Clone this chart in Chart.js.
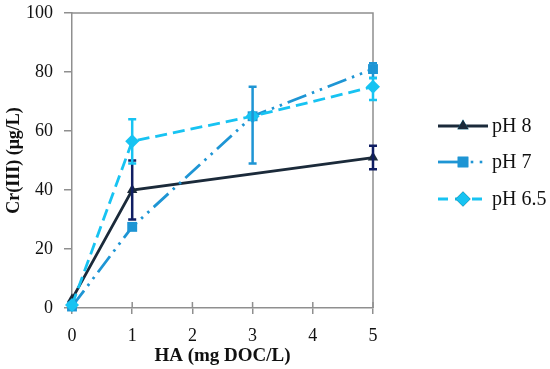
<!DOCTYPE html>
<html>
<head>
<meta charset="utf-8">
<script src="https://cdn.jsdelivr.net/npm/chart.js@4"></script>
<style>
  html, body { margin: 0; padding: 0; background: #fff; }
  #wrap { width: 550px; height: 369px; }
</style>
</head>
<body>
<div id="wrap"><canvas id="grafico"></canvas></div>
<script>
// Datos
const seriesNombres = ['pH 8', 'pH 7', 'pH 6.5'];
const xPH8 = [0, 1, 5];
const yPH8 = [3, 40, 51];
const errPH8 = [null, [30, 50], [47, 55]];
const xPH7 = [0, 1, 3, 5];
const yPH7 = [0.5, 27.5, 65, 81];
const errPH7 = [null, null, [49, 75], [78, 83]];
const xPH65 = [0, 1, 3, 5];
const yPH65 = [1, 56.5, 65, 75];
const errPH65 = [null, [49, 64], null, [70.5, 78]];
const xTicks = [0, 1, 2, 3, 4, 5];
const yTicks = [0, 20, 40, 60, 80, 100];

const FUENTE = '"Liberation Serif", "DejaVu Serif", serif';
const GRIS = '#8f8f8f';

const colores = ['#1b2a3a', '#1e95d4', '#17c3f2'];
const coloresError = ['#101e63', '#1e95d4', '#17c3f2'];
const estilos = ['triangle', 'rect', 'rectRot'];
const radios = [6, 7, 7];
const guiones = [[], [20, 6, 2.5, 6, 2.5, 6], [12, 6]];
const errores = [errPH8, errPH7, errPH65];

function puntos(xs, ys) {
    return xs.map((x, i) => ({ x: x, y: ys[i] }));
}

const datasets = [puntos(xPH8, yPH8), puntos(xPH7, yPH7), puntos(xPH65, yPH65)].map((data, i) => ({
    label: seriesNombres[i],
    data: data,
    showLine: true,
    clip: false,
    borderColor: colores[i],
    backgroundColor: colores[i],
    borderWidth: 2.8,
    borderDash: guiones[i],
    pointStyle: estilos[i],
    pointRadius: radios[i],
    pointBorderWidth: 0,
    pointBackgroundColor: colores[i],
    order: 2 - i
}));

// Barras de error, caja del area y marcas del eje x
const pluginExtras = {
    id: 'extras',
    beforeDatasetsDraw(chart) {
        const { ctx, chartArea: a } = chart;
        ctx.save();
        ctx.strokeStyle = GRIS;
        ctx.lineWidth = 1.5;
        ctx.beginPath();
        ctx.moveTo(a.left, a.top);
        ctx.lineTo(a.right, a.top);
        ctx.lineTo(a.right, a.bottom);
        ctx.stroke();
        // marcas hacia arriba en el eje x
        const sx = chart.scales.x;
        xTicks.forEach(v => {
            const px = sx.getPixelForValue(v);
            ctx.beginPath();
            ctx.moveTo(px, a.bottom);
            ctx.lineTo(px, a.bottom - 6);
            ctx.stroke();
        });
        ctx.restore();
    },
    afterDatasetsDraw(chart) {
        const { ctx } = chart;
        const sx = chart.scales.x, sy = chart.scales.y;
        ctx.save();
        ctx.lineWidth = 2.5;
        chart.data.datasets.forEach((ds, i) => {
            ctx.strokeStyle = coloresError[i];
            ds.data.forEach((p, j) => {
                const e = errores[i][j];
                if (!e) return;
                const px = sx.getPixelForValue(p.x);
                const y1 = sy.getPixelForValue(e[0]);
                const y2 = sy.getPixelForValue(e[1]);
                ctx.beginPath();
                ctx.moveTo(px, y1); ctx.lineTo(px, y2);
                ctx.moveTo(px - 4, y1); ctx.lineTo(px + 4, y1);
                ctx.moveTo(px - 4, y2); ctx.lineTo(px + 4, y2);
                ctx.stroke();
            });
        });
        ctx.restore();
    },
    afterDraw(chart) {
        // leyenda a la derecha con linea y marcador
        const { ctx } = chart;
        ctx.save();
        ctx.font = '20px ' + FUENTE;
        ctx.textBaseline = 'middle';
        chart.data.datasets.forEach((ds, i) => {
            const y = [126, 162, 199][i];
            ctx.strokeStyle = colores[i];
            ctx.lineWidth = 2.8;
            ctx.setLineDash(guiones[i].length ? [10, 7] : []);
            if (i === 1) ctx.setLineDash([]);
            ctx.beginPath();
            ctx.moveTo(438, y);
            ctx.lineTo(i === 1 ? 464 : 488, y);
            ctx.stroke();
            ctx.setLineDash([]);
            if (i === 1) {
                // puntos del trazo punto-punto
                ctx.fillStyle = colores[i];
                [472, 481].forEach(px => ctx.fillRect(px - 1.3, y - 1.3, 2.6, 2.6));
            }
            Chart.helpers.drawPoint(ctx, {
                pointStyle: estilos[i],
                radius: radios[i] + 0.5,
                rotation: 0,
                borderWidth: 0
            }, 463, y);
            ctx.fillStyle = colores[i];
            ctx.fill();
            ctx.fillStyle = '#111';
            ctx.fillText(ds.label, 492, y + 1);
        });
        ctx.restore();
    }
};

new Chart(document.getElementById('grafico'), {
    type: 'scatter',
    data: { datasets: datasets },
    options: {
        responsive: true,
        maintainAspectRatio: false,
        animation: false,
        layout: { padding: { top: 13, right: 177, left: 0, bottom: 0 } },
        plugins: {
            legend: { display: false },
            tooltip: { enabled: false }
        },
        scales: {
            x: {
                type: 'linear',
                min: 0,
                max: 5,
                afterFit: s => { s.height = 61; },
                afterBuildTicks: s => { s.ticks = xTicks.map(v => ({ value: v })); },
                border: { color: GRIS, width: 1.5 },
                grid: { drawOnChartArea: false, color: GRIS, lineWidth: 1.5, tickLength: 6 },
                ticks: { color: '#111', font: { family: FUENTE, size: 18 }, padding: 11 },
                title: {
                    display: true,
                    text: 'HA (mg DOC/L)',
                    color: '#111',
                    font: { family: FUENTE, size: 19, weight: 'bold' },
                    padding: { top: 0, bottom: 2 }
                }
            },
            y: {
                min: 0,
                max: 100,
                afterFit: s => { s.width = 72; s.paddingTop = 0; s.paddingBottom = 0; },
                afterBuildTicks: s => { s.ticks = yTicks.map(v => ({ value: v })); },
                border: { color: GRIS, width: 1.5 },
                grid: { drawOnChartArea: false, color: GRIS, lineWidth: 1.5, tickLength: 8 },
                ticks: { color: '#111', font: { family: FUENTE, size: 18 }, padding: 11 },
                title: {
                    display: true,
                    text: 'Cr(III) (μg/L)',
                    color: '#111',
                    font: { family: FUENTE, size: 18, weight: 'bold' },
                    padding: { bottom: 0 }
                }
            }
        }
    },
    plugins: [pluginExtras]
});
</script>
</body>
</html>
